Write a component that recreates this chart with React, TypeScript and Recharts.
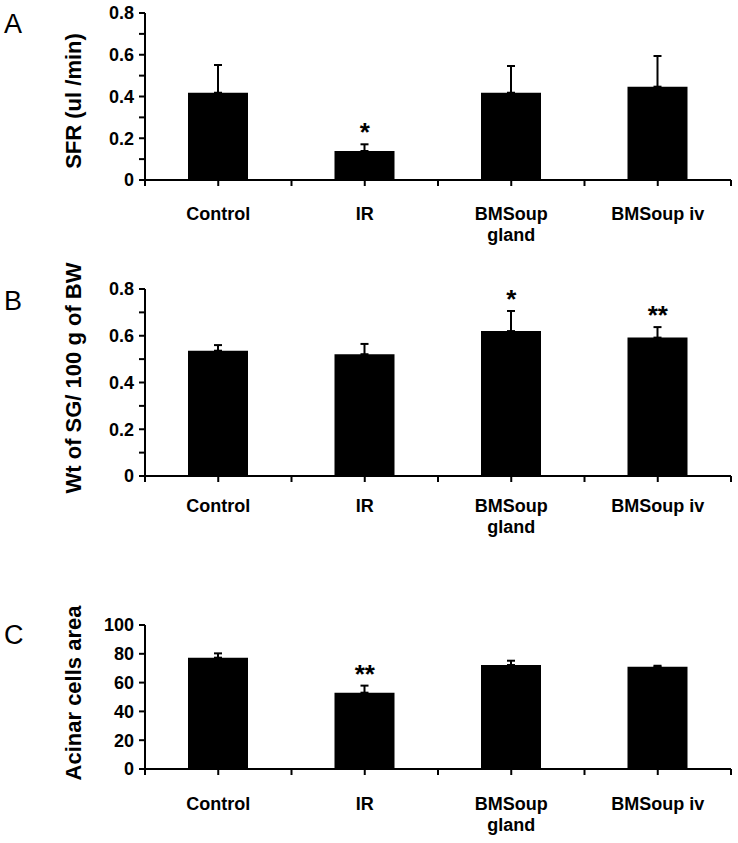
import React from "react";
import { ComposedChart, Bar, XAxis, YAxis, ErrorBar, Scatter } from "recharts";

// ---------- data ----------
const categories = ["Control", "IR", "BMSoup\ngland", "BMSoup iv"];

const sfrMean = [0.418, 0.139, 0.418, 0.447];
const sfrErr = [0.133, 0.032, 0.128, 0.147];
const sfrStars = ["", "*", "", ""];
const sfrTicks = [0, 0.1, 0.2, 0.3, 0.4, 0.5, 0.6, 0.7, 0.8];
const sfrTickLabels = ["0", "", "0.2", "", "0.4", "", "0.6", "", "0.8"];

const wtMean = [0.536, 0.521, 0.62, 0.592];
const wtErr = [0.024, 0.044, 0.086, 0.045];
const wtStars = ["", "", "*", "**"];
const wtTicks = [0, 0.1, 0.2, 0.3, 0.4, 0.5, 0.6, 0.7, 0.8];
const wtTickLabels = ["0", "", "0.2", "", "0.4", "", "0.6", "", "0.8"];

const acinarMean = [77.3, 53, 72.2, 71];
const acinarErr = [3, 4.9, 3, 0.7];
const acinarStars = ["", "**", "", ""];
const acinarTicks = [0, 20, 40, 60, 80, 100];
const acinarTickLabels = ["0", "20", "40", "60", "80", "100"];

const xTicks = [0, 0.5, 1, 1.5, 2, 2.5, 3, 3.5, 4];

const FONT = "'Liberation Sans', Arial, sans-serif";

type PanelProps = {
  top: number;
  height: number;
  plotTop: number;
  plotBottom: number;
  means: number[];
  errs: number[];
  stars: string[];
  yTicks: number[];
  yTickLabels: string[];
  labelOffset: number;
};

function Panel(p: PanelProps) {
  const data = categories.map((c, i) => ({
    x: i + 0.5,
    name: c,
    value: p.means[i],
    errRange: [0, p.errs[i]],
  }));
  const starData = categories
    .map((c, i) => ({ x: i + 0.5, top: p.means[i] + p.errs[i], star: p.stars[i] }))
    .filter((d) => d.star !== "");

  const XTick = (props: any) => {
    const { x, y, payload } = props;
    const v = payload.value as number;
    const isCenter = Math.abs(v - Math.floor(v) - 0.5) < 1e-6;
    const lines = isCenter ? categories[Math.floor(v)].split("\n") : [];
    return (
      <g>
        <line x1={x} x2={x} y1={y} y2={y + 6} stroke="#000" strokeWidth={2} />
        {lines.map((ln, i) => (
          <text
            key={i}
            x={x}
            y={y + p.labelOffset + i * 21}
            textAnchor="middle"
            fontSize={18}
            fontWeight="bold"
            fontFamily={FONT}
            fill="#000"
          >
            {ln}
          </text>
        ))}
      </g>
    );
  };

  const YTick = (props: any) => {
    const { x, y, payload } = props;
    const idx = p.yTicks.findIndex((t) => Math.abs(t - payload.value) < 1e-9);
    const label = idx >= 0 ? p.yTickLabels[idx] : "";
    return (
      <g>
        <line x1={x - 6} x2={x} y1={y} y2={y} stroke="#000" strokeWidth={2} />
        {label !== "" && (
          <text
            x={x - 11}
            y={y}
            dy="0.36em"
            textAnchor="end"
            fontSize={18}
            fontWeight="bold"
            fontFamily={FONT}
            fill="#000"
          >
            {label}
          </text>
        )}
      </g>
    );
  };

  const StarShape = (props: any) => {
    const { cx, cy, payload } = props;
    return (
      <text
        x={cx}
        y={cy - 3}
        textAnchor="middle"
        fontSize={26}
        fontWeight="bold"
        fontFamily={FONT}
        fill="#000"
      >
        {payload.star}
      </text>
    );
  };

  const yAxisWidth = 60;
  const xAxisHeight = 60;
  const margin = {
    top: p.plotTop - p.top,
    right: 7,
    left: 145 - yAxisWidth,
    bottom: p.top + p.height - p.plotBottom - xAxisHeight,
  };

  return (
    <div style={{ position: "absolute", left: 0, top: p.top, width: 738, height: p.height }}>
      <ComposedChart width={738} height={p.height} data={data} margin={margin}>
        <XAxis
          dataKey="x"
          type="number"
          domain={[0, 4]}
          ticks={xTicks}
          interval={0}
          tickSize={0}
          tickMargin={0}
          tickLine={false}
          tick={<XTick />}
          height={xAxisHeight}
          axisLine={{ stroke: "#000", strokeWidth: 2 }}
        />
        <YAxis
          type="number"
          domain={[p.yTicks[0], p.yTicks[p.yTicks.length - 1]]}
          ticks={p.yTicks}
          interval={0}
          tickSize={0}
          tickMargin={0}
          tickLine={false}
          tick={<YTick />}
          width={yAxisWidth}
          axisLine={{ stroke: "#000", strokeWidth: 2 }}
        />
        <Bar dataKey="value" fill="#000" barSize={60} isAnimationActive={false}>
          <ErrorBar dataKey="errRange" width={4} strokeWidth={2} stroke="#000" direction="y" />
        </Bar>
        <Scatter data={starData} dataKey="top" shape={StarShape} isAnimationActive={false} />
      </ComposedChart>
    </div>
  );
}

export default function App() {
  return (
    <div
      style={{
        position: "absolute",
        left: 0,
        top: 0,
        width: 738,
        height: 843,
        background: "#fff",
        fontFamily: FONT,
      }}
    >
      <Panel
        top={0}
        height={250}
        plotTop={13}
        plotBottom={180}
        means={sfrMean}
        errs={sfrErr}
        stars={sfrStars}
        yTicks={sfrTicks}
        yTickLabels={sfrTickLabels}
        labelOffset={40}
      />
      <Panel
        top={270}
        height={280}
        plotTop={289}
        plotBottom={476}
        means={wtMean}
        errs={wtErr}
        stars={wtStars}
        yTicks={wtTicks}
        yTickLabels={wtTickLabels}
        labelOffset={36}
      />
      <Panel
        top={605}
        height={238}
        plotTop={625}
        plotBottom={769}
        means={acinarMean}
        errs={acinarErr}
        stars={acinarStars}
        yTicks={acinarTicks}
        yTickLabels={acinarTickLabels}
        labelOffset={41}
      />
      <svg
        width={738}
        height={843}
        style={{ position: "absolute", left: 0, top: 0, pointerEvents: "none" }}
      >
        <g fontFamily={FONT} fill="#000">
          <text x={4} y={33} fontSize={27}>A</text>
          <text x={4} y={310} fontSize={27}>B</text>
          <text x={4} y={644} fontSize={27}>C</text>
          <text
            transform="translate(81,101) rotate(-90)"
            textAnchor="middle"
            fontSize={22}
            fontWeight="bold"
          >
            SFR (ul /min)
          </text>
          <text
            transform="translate(81,378) rotate(-90)"
            textAnchor="middle"
            fontSize={22}
            fontWeight="bold"
          >
            Wt of SG/ 100 g of BW
          </text>
          <text
            transform="translate(81,693) rotate(-90)"
            textAnchor="middle"
            fontSize={22}
            fontWeight="bold"
          >
            Acinar cells area
          </text>
        </g>
      </svg>
    </div>
  );
}
